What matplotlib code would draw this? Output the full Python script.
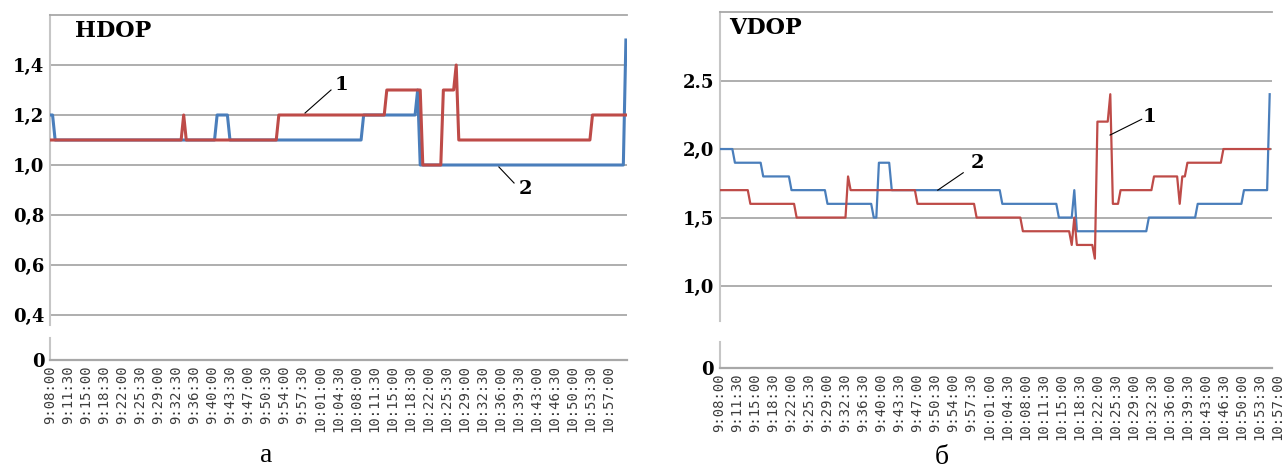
import numpy as np
import matplotlib
matplotlib.use("Agg")
import matplotlib.pyplot as plt
import matplotlib.transforms as mtransforms

W, H = 1285, 470

# Category labels (every 7th sample, 30 s sampling)
time_labels = [
    "9:08:00", "9:11:30", "9:15:00", "9:18:30", "9:22:00", "9:25:30",
    "9:29:00", "9:32:30", "9:36:30", "9:40:00", "9:43:30", "9:47:00",
    "9:50:30", "9:54:00", "9:57:30", "10:01:00", "10:04:30", "10:08:00",
    "10:11:30", "10:15:00", "10:18:30", "10:22:00", "10:25:30", "10:29:00",
    "10:32:30", "10:36:00", "10:39:30", "10:43:00", "10:46:30", "10:50:00",
    "10:53:30", "10:57:00",
]
label_step = 7

# HDOP, curve 1 (red) and curve 2 (blue): level + number of samples
hdop1_levels = [1.1, 1.2, 1.1, 1.2, 1.3, 1.0, 1.3, 1.4, 1.1, 1.2]
hdop1_runs = [52, 1, 36, 42, 14, 8, 5, 1, 52, 14]
hdop2_levels = [1.2, 1.1, 1.2, 1.1, 1.2, 1.3, 1.0, 1.5]
hdop2_runs = [2, 63, 5, 52, 21, 1, 80, 1]

# VDOP, curve 1 (red) and curve 2 (blue)
vdop1_levels = [1.7, 1.6, 1.5, 1.8, 1.7, 1.6, 1.5, 1.4, 1.3, 1.5, 1.3,
                1.2, 2.2, 2.4, 1.6, 1.7, 1.8, 1.6, 1.8, 1.9, 2.0]
vdop1_runs = [12, 18, 20, 1, 26, 23, 18, 19, 1, 1, 7,
              1, 5, 1, 3, 13, 10, 1, 2, 14, 19]
vdop2_levels = [2.0, 1.9, 1.8, 1.7, 1.6, 1.5, 1.9, 1.7, 1.6, 1.5, 1.7,
                1.4, 1.5, 1.6, 1.7, 2.4]
vdop2_runs = [6, 11, 11, 14, 18, 2, 5, 43, 22, 6, 1,
              28, 19, 18, 10, 1]

hdop_ticks = [0.4, 0.6, 0.8, 1.0, 1.2, 1.4]
hdop_tick_labels = ["0,4", "0,6", "0,8", "1,0", "1,2", "1,4"]
vdop_ticks = [1.0, 1.5, 2.0, 2.5]
vdop_tick_labels = ["1,0", "1,5", "2,0", "2.5"]

BLUE = "#4a7ebb"
RED = "#be4b48"
GRID = "#a8a8a8"
AXIS = "#c6c6c6"
SERIF_BOLD = dict(family="DejaVu Serif", weight="bold", color="black")


def px_box(left, top, right, bottom):
    """Axes rectangle from pixel edges of the 1285x470 picture."""
    return [left / W, 1 - bottom / H, (right - left) / W, (bottom - top) / H]


def draw_panel(fig, box_up, box_low, x_max, y_lim, ticks, tick_labels,
               red, blue, lw):
    """
    Upper part with data + small lower part holding the zero line
    (broken value axis as in the original Excel chart).
    """

    ax = fig.add_axes(box_up)
    ax_low = fig.add_axes(box_low)

    x_blue = np.arange(len(blue))
    x_red = np.arange(len(red))

    ax.plot(x_blue, blue, color=BLUE, lw=lw, solid_joinstyle="round",
            zorder=3)
    ax.plot(x_red, red, color=RED, lw=lw, solid_joinstyle="round",
            zorder=4)

    ax.set_xlim(0, x_max)
    ax.set_ylim(*y_lim)
    ax.set_xticks([])
    ax.set_yticks(ticks)
    ax.set_yticklabels(tick_labels, fontsize=13, **SERIF_BOLD)
    ax.tick_params(axis="y", length=0, pad=4)
    ax.grid(axis="y", color=GRID, lw=1.3)
    ax.set_axisbelow(True)

    for side in ["right", "bottom"]:
        ax.spines[side].set_visible(False)
    ax.spines["top"].set_color(GRID)
    ax.spines["top"].set_linewidth(1.3)
    ax.spines["left"].set_color(AXIS)
    ax.spines["left"].set_linewidth(1.5)

    # lower part: only the zero level
    ax_low.set_xlim(0, x_max)
    ax_low.set_ylim(0, 1)
    ax_low.set_xticks([])
    ax_low.set_yticks([0])
    ax_low.set_yticklabels(["0"], fontsize=13, **SERIF_BOLD)
    ax_low.tick_params(axis="y", length=0, pad=4)
    for side in ["right", "top"]:
        ax_low.spines[side].set_visible(False)
    ax_low.spines["bottom"].set_color(GRID)
    ax_low.spines["bottom"].set_linewidth(1.6)
    ax_low.spines["left"].set_color(AXIS)
    ax_low.spines["left"].set_linewidth(1.5)

    # category labels, rotated
    trans = mtransforms.blended_transform_factory(
        ax_low.transData,
        ax_low.transAxes
    ) + mtransforms.ScaledTranslation(0, -5 / 100, fig.dpi_scale_trans)
    for k, lab in enumerate(time_labels):
        ax_low.text(k * label_step, 0, lab, transform=trans,
                    rotation=90, ha="center", va="top",
                    family="DejaVu Sans Mono", fontsize=10,
                    color="#3c3c3c", clip_on=False)

    return ax, ax_low


def leader(ax, start, end, text_xy, label):
    """Thin black leader line with the curve number."""

    ax.plot([start[0], end[0]], [start[1], end[1]], color="black",
            lw=0.8, zorder=5, clip_on=False)
    ax.text(text_xy[0], text_xy[1], label, ha="center", va="center",
            fontsize=14, zorder=6, **SERIF_BOLD)


hdop1 = np.repeat(hdop1_levels, hdop1_runs)
hdop2 = np.repeat(hdop2_levels, hdop2_runs)
vdop1 = np.repeat(vdop1_levels, vdop1_runs)
vdop2 = np.repeat(vdop2_levels, vdop2_runs)

fig = plt.figure(figsize=(W / 100, H / 100), dpi=100)

# ==========================
# a) HDOP
# ==========================

ax_h, ax_h_low = draw_panel(
    fig,
    px_box(50, 15, 627, 325),
    px_box(50, 338, 627, 360),
    577 / 2.571,
    (0.36, 1.6),
    hdop_ticks,
    hdop_tick_labels,
    hdop1,
    hdop2,
    2.2
)

leader(ax_h, (99.2, 1.208), (109.3, 1.30), (113.2, 1.32), "1")
leader(ax_h, (174.6, 0.992), (180.5, 0.928), (184.8, 0.905), "2")

fig.text(75 / W, 1 - 31 / H, "HDOP", ha="left", va="center",
         fontsize=16, **SERIF_BOLD)
fig.text(266 / W, 1 - 456 / H, "а", ha="center", va="center",
         family="Liberation Serif", fontsize=20)

# ==========================
# б) VDOP
# ==========================

ax_v, ax_v_low = draw_panel(
    fig,
    px_box(719.5, 12, 1272, 321),
    px_box(719.5, 342, 1272, 368),
    552.5 / 2.571,
    (0.745, 3.0),
    vdop_ticks,
    vdop_tick_labels,
    vdop1,
    vdop2,
    1.6
)

leader(ax_v, (151.9, 2.102), (164.2, 2.217), (167.1, 2.236), "1")
leader(ax_v, (84.9, 1.70), (94.8, 1.827), (100.3, 1.896), "2")

fig.text(729 / W, 1 - 28 / H, "VDOP", ha="left", va="center",
         fontsize=16, **SERIF_BOLD)
fig.text(942 / W, 1 - 458 / H, "б", ha="center", va="center",
         family="Liberation Serif", fontsize=20)

plt.savefig("out.png", dpi=100)
plt.close()
